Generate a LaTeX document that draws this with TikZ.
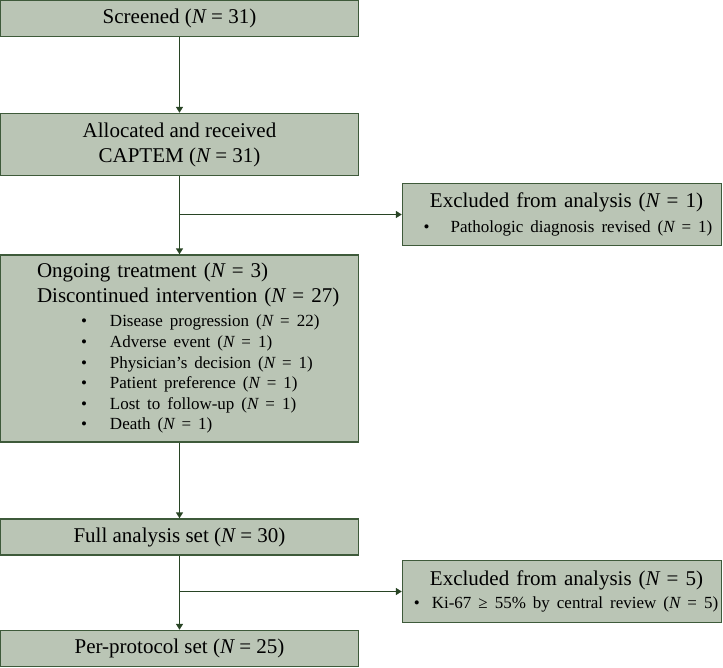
\documentclass[tikz,border=0pt]{standalone}
\usepackage{fontspec}
\setmainfont{Liberation Serif}
\usetikzlibrary{arrows.meta}

\definecolor{boxfill}{RGB}{186,197,181}
\definecolor{boxline}{RGB}{62,90,58}
\definecolor{arrowgreen}{RGB}{40,68,36}

\begin{document}
\begin{tikzpicture}[
    x=1pt, y=-1pt,
    stagebox/.style={draw=boxline, fill=boxfill, line width=1.4pt,
      minimum width=358pt, inner sep=0pt, font=\fontsize{21}{25}\selectfont},
    exclbox/.style={draw=boxline, fill=boxfill, line width=1.4pt,
      minimum width=319pt, minimum height=62pt, text width=319pt,
      inner sep=0pt, align=center, font=\fontsize{21}{25}\selectfont},
    flowarrow/.style={draw=arrowgreen, line width=1.5pt,
      -{Triangle[length=6pt,width=7pt]}}
  ]

    \useasboundingbox (0,0) rectangle (723,668);

    % main column
    \node[stagebox, minimum height=36pt] (screen) at (179.5,18.5)
      {Screened ({\itshape N} = 31)};
    \node[stagebox, minimum height=62pt, align=center] (alloc) at (179.5,144.5)
      {Allocated and received\\CAPTEM ({\itshape N} = 31)};
    \node[stagebox, minimum height=187pt, text width=340pt, align=left] (ongoing) at (179.5,348.5) {%
      \parindent=0pt\leftskip=27.5pt
      Ongoing treatment ({\itshape N} = 3)\par
      Discontinued intervention ({\itshape N} = 27)\par
      \fontsize{17}{20.6}\selectfont\leftskip=71.5pt\vspace{3.4pt}
      \makebox[29pt][l]{\textbullet}Disease progression ({\itshape N} = 22)\par
      \makebox[29pt][l]{\textbullet}Adverse event ({\itshape N} = 1)\par
      \makebox[29pt][l]{\textbullet}Physician’s decision ({\itshape N} = 1)\par
      \makebox[29pt][l]{\textbullet}Patient preference ({\itshape N} = 1)\par
      \makebox[29pt][l]{\textbullet}Lost to follow-up ({\itshape N} = 1)\par
      \makebox[29pt][l]{\textbullet}Death ({\itshape N} = 1)\par};
    \node[stagebox, minimum height=36pt] (fas) at (179.5,537)
      {Full analysis set ({\itshape N} = 30)};
    \node[stagebox, minimum height=36pt] (pps) at (179.5,648.5)
      {Per-protocol set ({\itshape N} = 25)};

    % exclusions
    \node[exclbox] (excl1) at (562,214.5) {%
      \vspace{2pt}\hspace*{9pt}Excluded from analysis ({\itshape N} = 1)\par
      \fontsize{17}{23}\selectfont
      \hspace*{12pt}\makebox[27pt][l]{\textbullet}Pathologic diagnosis revised ({\itshape N} = 1)\par};
    \node[exclbox] (excl2) at (562,591.5) {%
      \hspace*{9pt}Excluded from analysis ({\itshape N} = 5)\par
      \fontsize{17}{23}\selectfont
      \hspace*{8pt}\makebox[18pt][l]{\textbullet}Ki-67 ≥ 55\% by central review ({\itshape N} = 5)\par};

    \coordinate (split1) at (alloc.south |- excl1.west);
    \coordinate (split2) at (fas.south |- excl2.west);

    \draw[flowarrow] (screen) -- (alloc);
    \draw[flowarrow] (alloc) -- (ongoing);
    \draw[flowarrow] (split1) -- (excl1.west);
    \draw[flowarrow] (ongoing) -- (fas);
    \draw[flowarrow] (fas) -- (pps);
    \draw[flowarrow] (split2) -- (excl2.west);

\end{tikzpicture}
\end{document}
